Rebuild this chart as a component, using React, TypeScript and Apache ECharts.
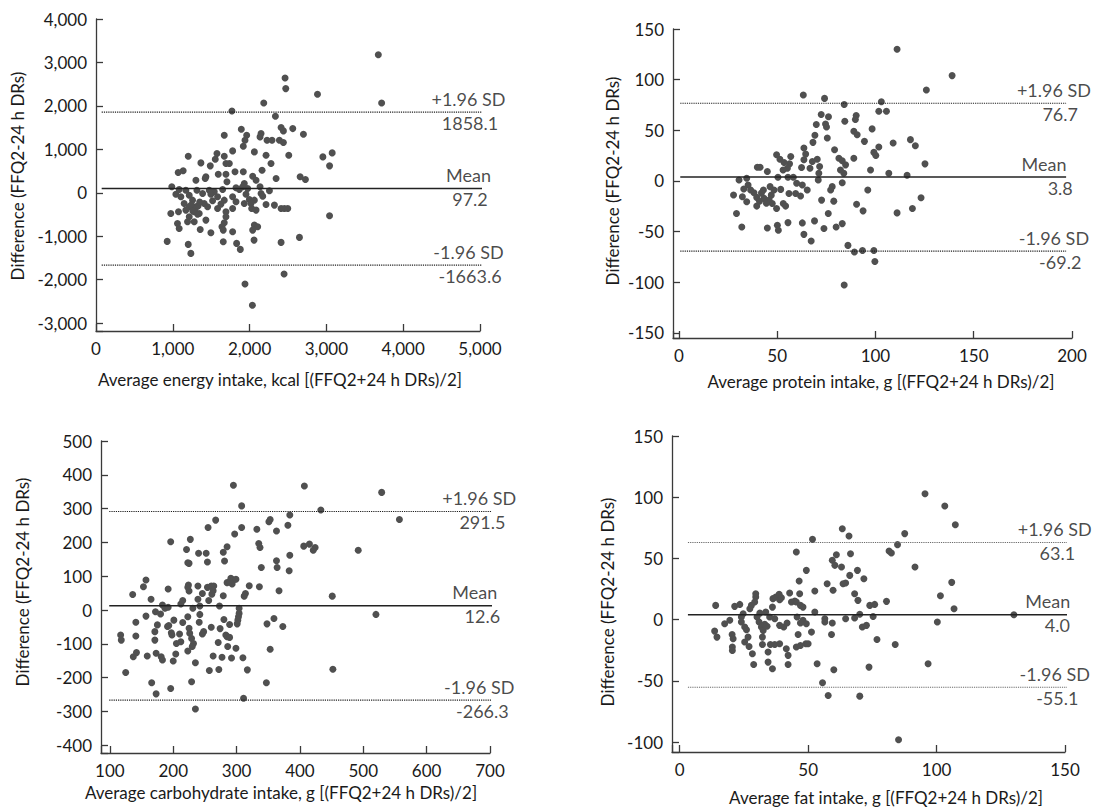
import React, { useEffect, useRef } from "react";
import * as echarts from "echarts";

// ---------- data ----------
const energyPoints: number[][] = [
  [2462,2643],[2471,2398],[2184,2068],[1770,1884],[2336,1762],[1892,1463],[1962,1325],[1940,1210],[1918,1072],[2149,1363],
  [2136,1287],[2227,1210],[2292,1210],[2410,1501],[2440,1425],[2388,1210],[2440,1157],[1670,1325],[1779,965],[1575,904],
  [1553,774],[1670,843],[1692,674],[1736,674],[1201,843],[1366,689],[1488,620],[1431,368],[1422,329],[1301,291],
  [1070,467],[1135,506],[1592,429],[1692,429],[1810,483],[1918,483],[2062,942],[2214,866],[2279,674],[2162,521],
  [2040,383],[2345,329],[2510,866],[1705,253],[1931,214],[1910,138],[2084,291],[2136,138],[987,138],[1083,77],
  [1170,61],[1314,61],[1475,61],[1540,23],[1649,77],[1823,115],[1866,77],[1975,100],[2149,-15],[2258,46],
  [1040,-31],[1105,-92],[1214,-54],[1257,-169],[1388,-15],[1496,-31],[1583,-92],[1670,-169],[1779,-92],[1953,-31],
  [1997,-153],[2062,-169],[2171,-77],[1148,-245],[1214,-322],[1301,-322],[1409,-245],[1518,-184],[1627,-260],[1823,-207],
  [1931,-245],[2018,-245],[2214,-268],[2323,-283],[2410,-360],[2453,-360],[2497,-360],[974,-475],[1074,-437],[1170,-398],
  [1279,-437],[1344,-475],[1453,-322],[1583,-360],[1692,-437],[1779,-360],[2027,-360],[2084,-398],[1214,-552],[1322,-490],
  [1431,-628],[1692,-552],[1670,-689],[1640,-781],[1061,-705],[1083,-820],[1192,-666],[1279,-666],[1357,-843],[1496,-919],
  [1657,-858],[1779,-896],[2062,-743],[2105,-781],[2040,-858],[927,-1118],[1201,-1187],[1235,-1394],[1657,-1126],[1831,-1164],
  [1879,-1302],[2058,-1088],[2410,-1141],[2449,-1869],[1940,-2099],[2036,-2589],[3676,3179],[2884,2267],[3719,2068],[2562,1478],
  [2701,1348],[2954,827],[3075,919],[3041,620],[2658,368],[2727,306],[3041,-529],[2649,-1026],[1240,-280],[1290,-380],
  [1330,-300],[1260,-420],[1350,-210]
];

const proteinPoints: number[][] = [
  [63.3,84.8],[74.1,81.5],[84.1,75.5],[84.4,59.0],[72.4,65.6],[76.1,63.3],[69.9,55.7],[74.6,56.3],[75.1,53.3],[69.2,45.1],
  [75.5,42.4],[68.2,38.1],[79.2,30.8],[63.6,32.5],[64.5,26.5],[63.6,20.9],[67.9,19.2],[70.4,21.5],[71.6,14.2],[66.7,12.6],
  [62.4,13.3],[71.2,7.6],[81.4,22.5],[83.1,19.9],[84.8,15.9],[83.9,7.6],[82.2,10.9],[49.7,25.8],[51.4,21.5],[56.9,24.2],
  [56.3,16.9],[53.5,18.2],[55.2,12.6],[53.0,10.9],[39.9,13.6],[41.3,13.6],[45.0,9.3],[50.4,3.6],[55.5,3.6],[58.2,3.6],
  [59.9,-2.3],[62.8,-4.0],[70.9,1.0],[83.1,-1.7],[30.6,1.0],[34.5,2.7],[35.2,-4.0],[27.8,-13.9],[32.3,-15.6],[34.5,-20.5],
  [38.2,-11.6],[39.6,-16.2],[43.0,-8.9],[46.4,-5.6],[48.4,-8.9],[51.8,-8.3],[39.6,-24.8],[43.3,-17.2],[45.9,-18.9],[47.5,-22.2],
  [49.7,-27.2],[53.1,-22.2],[54.3,-24.8],[56.0,-12.3],[59.4,-12.3],[61.9,-14.9],[65.3,-8.9],[78.0,-5.6],[77.2,-8.9],[78.8,-19.9],
  [72.6,-18.9],[76.0,-32.1],[80.0,-45.4],[83.1,-42.1],[29.3,-32.1],[32.0,-45.4],[45.0,-46.4],[50.1,-43.7],[50.6,-48.7],[55.5,-41.1],
  [62.8,-41.4],[63.6,-52.7],[67.3,-59.3],[69.0,-39.4],[73.8,-47.0],[86.0,-63.6],[84.1,-102.7],[125.9,89.8],[103.0,78.2],[101.7,68.9],
  [105.6,68.9],[90.2,64.6],[89.8,60.6],[89.0,49.0],[90.7,45.7],[98.3,51.4],[94.4,39.1],[109.0,37.4],[117.8,40.8],[120.3,34.8],
  [101.7,33.5],[99.2,28.2],[100.2,25.2],[89.0,22.5],[125.2,16.9],[97.5,10.9],[106.8,7.6],[116.1,5.6],[96.1,-8.9],[123.2,-16.6],
  [90.4,-22.9],[93.7,-29.5],[111.0,-31.5],[118.8,-27.2],[89.3,-70.2],[93.4,-68.6],[99.2,-68.6],[99.7,-79.5],[111,130],[139,104],
  [42.0,-12.0],[44.5,-22.0],[47.0,-14.0],[41.0,-20.0],[36.5,-9.0],[33.0,-8.0]
];

const carbPoints: number[][] = [
  [295,369],[308,308],[267,266],[255,244],[297,225],[308,244],[332,239],[351,261],[353,268],[363,234],
  [381,251],[384,281],[196,202],[227,209],[221,179],[240,168],[252,168],[223,140],[225,138],[254,142],
  [279,171],[285,187],[281,145],[337,185],[335,197],[339,126],[363,146],[364,126],[384,162],[383,116],
  [157,89],[153,69],[136,46],[165,32],[192,62],[224,74],[225,56],[223,67],[239,71],[246,49],
  [254,67],[260,71],[263,57],[264,71],[291,94],[295,89],[285,81],[299,91],[293,77],[289,84],
  [320,72],[314,49],[312,41],[336,69],[367,57],[279,42],[172,-5],[180,-12],[187,5],[192,8],
  [183,15],[212,18],[215,28],[239,32],[242,12],[256,28],[261,47],[273,12],[304,5],[304,-10],
  [303,-20],[231,5],[157,-18],[141,-36],[175,-44],[171,-64],[171,-89],[201,-30],[215,-37],[223,-20],
  [241,-36],[242,-13],[260,-51],[274,-55],[280,-28],[289,-43],[301,-41],[302,-30],[348,-41],[359,-25],
  [373,-49],[117,-74],[118,-89],[141,-77],[193,-46],[191,-49],[197,-67],[198,-74],[210,-71],[212,-94],
  [205,-99],[225,-54],[226,-69],[229,-84],[232,-99],[246,-71],[248,-64],[271,-96],[283,-74],[285,-79],
  [289,-81],[286,-108],[299,-113],[137,-138],[142,-126],[159,-136],[173,-128],[181,-138],[183,-148],[200,-151],
  [204,-130],[223,-121],[230,-108],[235,-156],[263,-136],[277,-140],[292,-142],[310,-141],[353,-116],[125,-185],
  [166,-215],[173,-248],[196,-232],[229,-212],[257,-179],[272,-176],[317,-177],[347,-215],[311,-261],[235,-293],
  [407,367],[529,348],[433,296],[557,268],[406,189],[415,195],[424,185],[421,177],[492,177],[451,41],
  [520,-13],[452,-175]
];

const fatPoints: number[][] = [
  [14.0,11.7],[13.6,-9.3],[14.5,-14.2],[17.5,-3.3],[19.5,-0.5],[20.4,-12.0],[20.8,-15.5],[20.5,-22.3],[20.5,-25.1],[21.4,10.9],
  [23.4,12.5],[24.0,2.2],[24.7,4.9],[24.0,-1.9],[25.3,-6.0],[26.0,-8.2],[26.6,-14.2],[25.3,-18.2],[27.0,-21.8],[28.3,-27.8],
  [28.8,-36.5],[27.3,9.0],[27.9,11.7],[29.2,14.4],[29.6,18.5],[29.6,21.2],[30.1,2.2],[31.2,5.4],[30.9,-1.9],[31.8,-6.0],
  [32.5,-8.7],[33.1,-3.8],[34.0,-5.4],[32.2,-14.2],[32.2,-20.2],[34.4,-26.4],[34.4,-34.6],[36.1,-40.0],[35.3,-20.2],[37.0,-20.2],
  [38.9,-19.6],[33.5,6.3],[35.0,2.2],[36.1,10.3],[36.3,17.2],[37.4,18.5],[38.7,20.7],[38.9,16.3],[39.6,18.0],[37.0,0.8],
  [38.9,-4.6],[40.5,-6.0],[41.8,-2.7],[41.5,-23.7],[42.2,-29.1],[42.2,-36.5],[42.8,21.8],[43.5,14.4],[44.8,15.2],[45.4,14.4],
  [46.7,21.2],[47.0,11.7],[48.0,10.3],[45.7,2.2],[47.0,-2.7],[48.0,-0.5],[49.3,-3.3],[46.1,-12.0],[45.4,-22.3],[47.0,-21.0],
  [49.1,-19.6],[50.0,-19.6],[45.4,55.3],[49.3,40.3],[46.5,31.6],[52.6,23.4],[51.7,65.6],[52.6,6.3],[51.3,-10.1],[53.5,-35.9],
  [55.6,-51.5],[57.8,-61.8],[56.5,0.8],[56.5,-1.9],[57.4,29.4],[59.7,24.0],[59.4,-2.7],[59.1,-12.0],[60.0,-40.8],[59.4,48.5],
  [61.0,53.1],[60.4,44.4],[63.3,74.3],[65.9,68.3],[66.5,53.9],[63.0,43.0],[63.6,29.4],[64.6,30.0],[66.2,36.2],[64.6,0.8],
  [68.1,1.4],[69.2,40.3],[71.7,33.5],[68.1,21.2],[69.4,15.8],[70.1,4.4],[71.1,-6.0],[72.7,-4.6],[70.1,-62.4],[74.0,11.7],
  [73.7,-38.7],[95.5,102.9],[103.2,92.9],[107.3,77.6],[87.6,70.3],[84.8,61.3],[81.5,56.1],[82.4,54.5],[91.6,43.0],[105.9,30.5],
  [101.5,19.6],[80.5,15.0],[75.9,12.5],[106.8,9.0],[75.3,2.7],[130.1,4.1],[100.3,-1.9],[76.8,-16.1],[83.9,-20.2],[96.7,-35.9],
  [85.2,-98.0]
];

// limits of agreement: [+1.96 SD, mean, -1.96 SD]
const energyLimits = [1858.1, 97.2, -1663.6];
const proteinLimits = [76.7, 3.8, -69.2];
const carbLimits = [291.5, 12.6, -266.3];
const fatLimits = [63.1, 4.0, -55.1];
const limitNames = ["+1.96 SD", "Mean", "-1.96 SD"];

const xTitles = [
  "Average energy intake, kcal [(FFQ2+24 h DRs)/2]",
  "Average protein intake, g [(FFQ2+24 h DRs)/2]",
  "Average carbohydrate intake, g [(FFQ2+24 h DRs)/2]",
  "Average fat intake, g [(FFQ2+24 h DRs)/2]",
];
const yTitle = "Difference (FFQ2-24 h DRs)";

// ---------- layout / style ----------
const FONT = "Lato";
const TEXT = "#1a1a1a";
const AXIS = "#3a3a3a";
const DOT = "#505050";

const panels = [
  {
    points: energyPoints, limits: energyLimits,
    grid: { left: 96, top: 19, width: 384, height: 312 },
    x: [0, 5000, 1000], y: [-3180, 4000, 1000],
    lineX: [74, 5300], labelX: [4850, 4850, 4870],
    xTitle: [280, 379], yTitlePos: [17, 176], sdColor: "#1e1e1e", sdWidth: 1.2, comma: true,
  },
  {
    points: proteinPoints, limits: proteinLimits,
    grid: { left: 673, top: 29, width: 399, height: 309 },
    x: [-3, 200, 50], y: [-155, 150, 50],
    lineX: [0.7, 197], labelX: [190.8, 185.8, 194],
    xTitle: [881, 381], yTitlePos: [612, 181], sdColor: "#1e1e1e", sdWidth: 1.2, comma: false,
  },
  {
    points: carbPoints, limits: carbLimits,
    grid: { left: 101, top: 441, width: 389, height: 312 },
    x: [86, 700, 100], y: [-423, 500, 100],
    lineX: [99, 735], labelX: [683, 676, 688],
    xTitle: [281, 792], yTitlePos: [22, 582], sdColor: "#1e1e1e", sdWidth: 1.2, comma: false,
  },
  {
    points: fatPoints, limits: fatLimits,
    grid: { left: 672, top: 436, width: 393, height: 316 },
    x: [-3, 150, 50], y: [-108, 150, 50],
    lineX: [3.2, 159], labelX: [146, 143.3, 147],
    xTitle: [886, 797], yTitlePos: [607, 602], sdColor: "#6a6a6a", sdWidth: 1.1, comma: false,
  },
];

const isStep = (v: number, step: number) => Math.abs(v / step - Math.round(v / step)) < 1e-6;

function makeAxis(gridIndex: number, range: number[], comma: boolean) {
  const [min, max, step] = range;
  return {
    type: "value",
    gridIndex,
    min,
    max,
    minInterval: step,
    maxInterval: step,
    axisLine: { show: true, onZero: false, lineStyle: { color: AXIS, width: 1.3 } },
    axisTick: { show: true, inside: true, length: 7, lineStyle: { color: AXIS, width: 1.3 } },
    splitLine: { show: false },
    axisLabel: {
      color: TEXT,
      fontSize: 17,
      fontFamily: FONT,
      margin: 9,
      formatter: (v: number) =>
        isStep(v, step) ? (comma ? v.toLocaleString("en-US") : String(v)) : "",
    },
  };
}

function buildOption() {
  const grid: any[] = [];
  const xAxis: any[] = [];
  const yAxis: any[] = [];
  const series: any[] = [];
  const graphic: any[] = [];

  panels.forEach((p, i) => {
    grid.push({ ...p.grid, containLabel: false });
    xAxis.push(makeAxis(i, p.x, p.comma));
    yAxis.push(makeAxis(i, p.y, p.comma));

    series.push({
      type: "scatter",
      xAxisIndex: i,
      yAxisIndex: i,
      data: p.points,
      symbolSize: 7,
      itemStyle: { color: DOT, opacity: 1 },
      silent: true,
    });

    p.limits.forEach((lim, k) => {
      const isMean = k === 1;
      series.push({
        type: "line",
        xAxisIndex: i,
        yAxisIndex: i,
        data: [
          [p.lineX[0], lim],
          [p.lineX[1], lim],
        ],
        symbol: "none",
        clip: false,
        silent: true,
        lineStyle: isMean
          ? { color: "#222", width: 1.5, type: "solid" }
          : { color: p.sdColor, width: p.sdWidth, type: [1.2, 1] },
      });
    });

    const labelData: any[] = [];
    p.limits.forEach((lim, k) => {
      labelData.push({
        value: [k === 1 ? p.labelX[1] : p.labelX[0], lim],
        label: { show: true, position: "top", distance: 4, formatter: limitNames[k] },
      });
      labelData.push({
        value: [p.labelX[2], lim],
        label: { show: true, position: "bottom", distance: 1, formatter: lim.toFixed(1) },
      });
    });
    series.push({
      type: "scatter",
      xAxisIndex: i,
      yAxisIndex: i,
      data: labelData,
      symbolSize: 1,
      clip: false,
      silent: true,
      itemStyle: { color: "rgba(0,0,0,0)" },
      label: { color: TEXT, fontSize: 18, fontFamily: FONT },
    });

    graphic.push({
      type: "text",
      x: p.xTitle[0],
      y: p.xTitle[1],
      style: {
        text: xTitles[i],
        fill: TEXT,
        font: `17px ${FONT}`,
        textAlign: "center",
        textVerticalAlign: "middle",
      },
    });
    graphic.push({
      type: "text",
      x: p.yTitlePos[0],
      y: p.yTitlePos[1],
      rotation: Math.PI / 2,
      style: {
        text: yTitle,
        fill: TEXT,
        font: `17px ${FONT}`,
        textAlign: "center",
        textVerticalAlign: "middle",
      },
    });
  });

  return {
    animation: false,
    backgroundColor: "#ffffff",
    textStyle: { fontFamily: FONT },
    grid,
    xAxis,
    yAxis,
    series,
    graphic,
  };
}

export default function App() {
  const ref = useRef<HTMLDivElement>(null);
  useEffect(() => {
    if (!ref.current) return;
    const chart = echarts.init(ref.current, undefined, { renderer: "svg" });
    chart.setOption(buildOption() as any);
    return () => chart.dispose();
  }, []);
  return (
    <div
      ref={ref}
      style={{ position: "fixed", left: 0, top: 0, width: 1103, height: 810, background: "#fff" }}
    />
  );
}
